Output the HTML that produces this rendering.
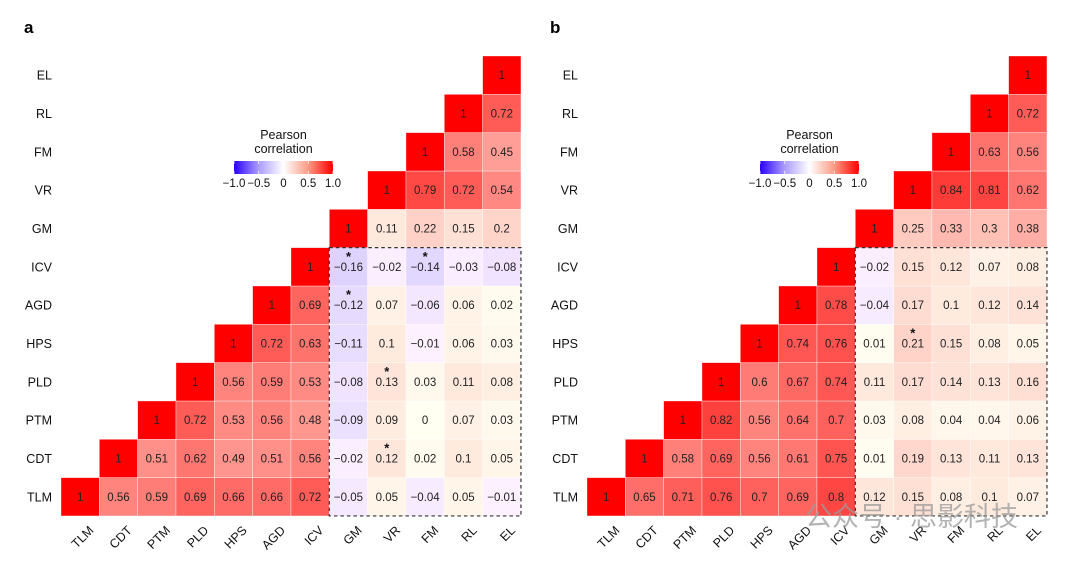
<!DOCTYPE html>
<html><head><meta charset="utf-8">
<style>
body{margin:0;background:#fff;}
svg text{font-family:"Liberation Sans","Noto Sans CJK SC",sans-serif;}
</style></head>
<body>
<svg id="chart" width="1080" height="559" viewBox="0 0 1080 559" xmlns="http://www.w3.org/2000/svg">
<defs>
<linearGradient id="cbar" x1="0" x2="1" y1="0" y2="0">
<stop offset="0" stop-color="#2a00ff"/>
<stop offset="0.25" stop-color="#ac9cff"/>
<stop offset="0.5" stop-color="#ffffff"/>
<stop offset="0.75" stop-color="#fb9a84"/>
<stop offset="1" stop-color="#ff0000"/>
</linearGradient>
</defs>
</svg>
<script>
const variables = ["TLM","CDT","PTM","PLD","HPS","AGD","ICV","GM","VR","FM","RL","EL"];
const legendTicks = [-1.0,-0.5,0,0.5,1.0];
const legendTickLabels = ["\u22121.0","\u22120.5","0","0.5","1.0"];
const corrA = [
[1],
[0.56,1],
[0.59,0.51,1],
[0.69,0.62,0.72,1],
[0.66,0.49,0.53,0.56,1],
[0.66,0.51,0.56,0.59,0.72,1],
[0.72,0.56,0.48,0.53,0.63,0.69,1],
[-0.05,-0.02,-0.09,-0.08,-0.11,-0.12,-0.16,1],
[0.05,0.12,0.09,0.13,0.1,0.07,-0.02,0.11,1],
[-0.04,0.02,0,0.03,-0.01,-0.06,-0.14,0.22,0.79,1],
[0.05,0.1,0.07,0.11,0.06,0.06,-0.03,0.15,0.72,0.58,1],
[-0.01,0.05,0.03,0.08,0.03,0.02,-0.08,0.2,0.54,0.45,0.72,1]
];
const corrB = [
[1],
[0.65,1],
[0.71,0.58,1],
[0.76,0.69,0.82,1],
[0.7,0.56,0.56,0.6,1],
[0.69,0.61,0.64,0.67,0.74,1],
[0.8,0.75,0.7,0.74,0.76,0.78,1],
[0.12,0.01,0.03,0.11,0.01,-0.04,-0.02,1],
[0.15,0.19,0.08,0.17,0.21,0.17,0.15,0.25,1],
[0.08,0.13,0.04,0.14,0.15,0.1,0.12,0.33,0.84,1],
[0.1,0.11,0.04,0.13,0.08,0.12,0.07,0.3,0.81,0.63,1],
[0.07,0.13,0.06,0.16,0.05,0.14,0.08,0.38,0.62,0.56,0.72,1]
];
const starsA = [["GM","ICV"],["FM","ICV"],["GM","AGD"],["VR","PLD"],["VR","CDT"]];
const starsB = [["VR","HPS"]];

const NS="http://www.w3.org/2000/svg";
const svg=document.getElementById('chart');
function mk(tag,attrs,parent){const e=document.createElementNS(NS,tag);for(const k in attrs)e.setAttribute(k,attrs[k]);(parent||svg).appendChild(e);return e;}
function color(v){
  const a=Math.min(1,Math.abs(v));
  const t=Math.round(255*Math.pow(1-a,0.8));
  if(v>=0) return `rgb(255,${t},${Math.round(t*0.95)})`;
  return `rgb(${t},${Math.round(t*0.95)},255)`;
}
function fmt(v){if(v===1)return "1";let s=String(v);return s.replace("-","\u2212");}

function panel(x0,y0,corr,stars,letter,prefix){
  const cs=38.33,n=variables.length;
  const g=mk('g',{});
  
  
  const colX=c=>x0+c*cs;
  const rowY=r=>y0+(n-1-r)*cs;
  const lt=mk('text',{x:x0-37,y:33,'font-size':17,'font-weight':'bold',fill:'#000'},g);
  lt.textContent=letter;
  
  
  for(let i=0;i<n;i++){
    for(let j=0;j<=i;j++){
      const v=corr[i][j];
      const x=colX(i),y=rowY(j);
      const r=mk('rect',{x:x,y:y,width:cs,height:cs,fill:color(v),stroke:'#fff','stroke-width':0.6,'stroke-opacity':0.6},g);
      
      
      const t=mk('text',{x:x+cs/2,y:y+cs/2+4,'text-anchor':'middle','font-size':11.5,fill:'#222'},g);
      t.textContent=fmt(v);
      
      
    }
  }
  stars.forEach(s=>{
    const i=variables.indexOf(s[0]),j=variables.indexOf(s[1]);
    const st=mk('text',{x:colX(i)+cs/2,y:rowY(j)+cs/2-6,'text-anchor':'middle','font-size':13,'font-weight':'bold',fill:'#111'},g);
    st.textContent='*';
    
    
  });
  const gi=variables.indexOf('GM'),ci=variables.indexOf('ICV');
  const bx=colX(gi),by=rowY(ci),bw=cs*(n-gi),bh=cs*(ci+1);
  const box=mk('rect',{x:bx,y:by,width:bw,height:bh,fill:'none',stroke:'#333','stroke-width':1.2,'stroke-dasharray':'3.5,3'},g);
  
  
  variables.forEach((vn,k)=>{
    const rl=mk('text',{x:x0-9,y:rowY(k)+cs/2+4.5,'text-anchor':'end','font-size':12.5,fill:'#111'},g);
    rl.textContent=vn;
    
    
    const cx=colX(k)+cs/2+8,cy=y0+n*cs+9;
    const cl=mk('text',{x:cx,y:cy,'text-anchor':'end','font-size':12.5,fill:'#111',transform:`rotate(-45 ${cx} ${cy})`,dy:'0.7em'},g);
    cl.textContent=vn;
    
    
  });
  const lx=x0+173,ly=161,lw=99,lh=13;
  const lg=mk('g',{},g);
  
  
  const t1=mk('text',{x:lx+lw/2,y:139,'text-anchor':'middle','font-size':12.5,fill:'#111'},lg);t1.textContent='Pearson';
  
  
  const t2=mk('text',{x:lx+lw/2,y:153,'text-anchor':'middle','font-size':12.5,fill:'#111'},lg);t2.textContent='correlation';
  
  
  const bar=mk('rect',{x:lx,y:ly,width:lw,height:lh,fill:'url(#cbar)'},lg);
  
  
  legendTicks.forEach((tv,k)=>{
    const tx=lx+(tv+1)/2*lw;
    mk('line',{x1:tx,x2:tx,y1:ly,y2:ly+3,stroke:'#fff','stroke-width':0.8},lg);
    mk('line',{x1:tx,x2:tx,y1:ly+lh-3,y2:ly+lh,stroke:'#fff','stroke-width':0.8},lg);
    const tl=mk('text',{x:tx,y:ly+lh+13,'text-anchor':'middle','font-size':11.5,fill:'#111'},lg);
    tl.textContent=legendTickLabels[k];
    
    
  });
}
panel(61,56,corrA,starsA,'a','panel-a');
panel(587,56,corrB,starsB,'b','panel-b');
const wm=mk('text',{x:805,y:526,'font-size':27,fill:'#999','fill-opacity':0.75});
wm.textContent='公众号 · 思影科技';


</script>
</body></html>
